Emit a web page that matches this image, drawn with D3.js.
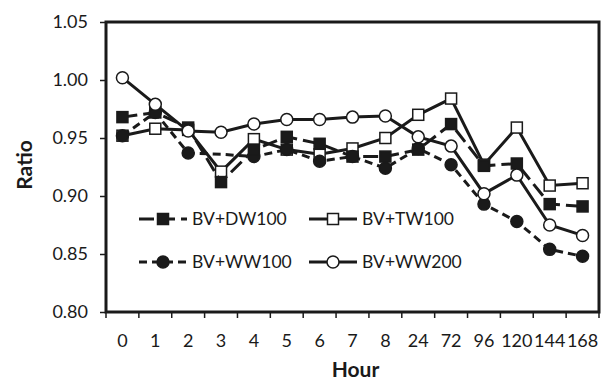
<!DOCTYPE html>
<html>
<head>
<meta charset="utf-8">
<script src="https://cdn.jsdelivr.net/npm/d3@7"></script>
<style>
  html, body { margin: 0; padding: 0; background: #fff; }
  svg { display: block; }
  text { font-family: Lato, "Open Sans", sans-serif; fill: #1a1a1a; }
</style>
</head>
<body>
<svg id="chart" width="602" height="383"></svg>
<script>
// Hours after treatment (categorical axis)
const hours = ["0", "1", "2", "3", "4", "5", "6", "7", "8", "24", "72", "96", "120", "144", "168"];
const yTicks = [0.80, 0.85, 0.90, 0.95, 1.00, 1.05];

// Ratio for each treatment
const tw100 = [0.952, 0.958, 0.957, 0.921, 0.949, 0.940, 0.936, 0.941, 0.950, 0.970, 0.984, 0.927, 0.959, 0.909, 0.911];
const ww100 = [0.952, 0.972, 0.937, 0.936, 0.934, 0.940, 0.930, 0.934, 0.924, 0.941, 0.927, 0.893, 0.878, 0.854, 0.848];
const dw100 = [0.968, 0.972, 0.959, 0.912, 0.940, 0.951, 0.945, 0.934, 0.934, 0.940, 0.962, 0.926, 0.928, 0.893, 0.891];
const ww200 = [1.002, 0.979, 0.956, 0.955, 0.962, 0.966, 0.966, 0.968, 0.969, 0.951, 0.943, 0.902, 0.918, 0.875, 0.866];

// Points plotted without a marker
const ww100NoMarker = ["3"];

// Drawing order: first entry is at the bottom
const series = [
  { name: "BV+TW100", values: tw100, marker: "square", filled: false, dash: null, skip: [] },
  { name: "BV+WW100", values: ww100, marker: "circle", filled: true, dash: "8,5", skip: ww100NoMarker },
  { name: "BV+DW100", values: dw100, marker: "square", filled: true, dash: "15,6", skip: [] },
  { name: "BV+WW200", values: ww200, marker: "circle", filled: false, dash: null, skip: [] }
];

// Legend layout: two columns, two rows
const legendOrder = [
  { name: "BV+DW100", col: 0, row: 0 },
  { name: "BV+TW100", col: 1, row: 0 },
  { name: "BV+WW100", col: 0, row: 1 },
  { name: "BV+WW200", col: 1, row: 1 }
];

const svg = d3.select("#chart");
const margin = { left: 106, right: 3, top: 22, bottom: 71 };
const W = 602, H = 383;

const x = d3.scaleBand().domain(hours).range([margin.left, W - margin.right]).padding(0);
const y = d3.scaleLinear().domain([0.80, 1.05]).range([H - margin.bottom, margin.top]);

const lineW = 3;

// Y axis with ticks and labels
const yAxis = svg.append("g")
  .attr("transform", `translate(${margin.left},0)`)
  .call(d3.axisLeft(y).tickValues(yTicks).tickSize(6).tickPadding(12).tickFormat(d3.format(".2f")));
yAxis.select(".domain").remove();
yAxis.selectAll(".tick line").attr("stroke", "#1a1a1a").attr("stroke-width", 1.5);
yAxis.selectAll(".tick text").style("font-size", "18px").attr("fill", "#1a1a1a");

// X axis: ticks on category boundaries, labels at centres
const xAxis = svg.append("g")
  .attr("transform", `translate(0,${y(0.80)})`)
  .call(d3.axisBottom(x).tickSize(0).tickPadding(22));
xAxis.select(".domain").remove();
xAxis.selectAll(".tick text").style("font-size", "18px").attr("fill", "#1a1a1a");

const bounds = hours.map(h => x(h)).concat([x.range()[1]]);
svg.append("g").selectAll("line").data(bounds).join("line")
  .attr("x1", d => d).attr("x2", d => d)
  .attr("y1", y(0.80)).attr("y2", y(0.80) + 6)
  .attr("stroke", "#1a1a1a").attr("stroke-width", 1.5);

// Plot frame
svg.append("rect")
  .attr("x", margin.left).attr("y", y(1.05))
  .attr("width", x.range()[1] - margin.left)
  .attr("height", y(0.80) - y(1.05))
  .attr("fill", "none").attr("stroke", "#1a1a1a").attr("stroke-width", 3);

// Axis titles
svg.append("text")
  .attr("transform", `translate(32,${(y(0.80) + y(1.05)) / 2 - 2}) rotate(-90)`)
  .attr("text-anchor", "middle")
  .style("font-size", "21px").style("font-weight", "bold")
  .text("Ratio");
svg.append("text")
  .attr("x", (margin.left + x.range()[1]) / 2 + 3).attr("y", 377)
  .attr("text-anchor", "middle")
  .style("font-size", "21px").style("font-weight", "bold")
  .text("Hour");

const cx = h => x(h) + x.bandwidth() / 2;
const line = d3.line().x((d, i) => cx(hours[i])).y(d => y(d));

function drawMarker(g, s, px, py) {
  if (s.marker === "square") {
    g.append("rect")
      .attr("x", px - 5.5).attr("y", py - 5.5).attr("width", 11).attr("height", 11)
      .attr("fill", s.filled ? "#1a1a1a" : "#fff")
      .attr("stroke", "#1a1a1a").attr("stroke-width", 1.5);
  } else {
    g.append("circle")
      .attr("cx", px).attr("cy", py).attr("r", 6)
      .attr("fill", s.filled ? "#1a1a1a" : "#fff")
      .attr("stroke", "#1a1a1a").attr("stroke-width", 1.5);
  }
}

// Series lines and markers
series.forEach(s => {
  const g = svg.append("g");
  g.append("path")
    .attr("d", line(s.values))
    .attr("fill", "none")
    .attr("stroke", "#1a1a1a")
    .attr("stroke-width", lineW)
    .attr("stroke-dasharray", s.dash);
  s.values.forEach((v, i) => {
    if (s.skip.includes(hours[i])) return;
    drawMarker(g, s, cx(hours[i]), y(v));
  });
});

// Legend
const legendCols = [139, 309];
const legendRows = [219, 262];
const sampleLen = 48;
legendOrder.forEach(item => {
  const s = series.find(d => d.name === item.name);
  const lx = legendCols[item.col], ly = legendRows[item.row];
  const g = svg.append("g");
  g.append("line")
    .attr("x1", lx).attr("x2", lx + sampleLen)
    .attr("y1", ly).attr("y2", ly)
    .attr("stroke", "#1a1a1a").attr("stroke-width", lineW)
    .attr("stroke-dasharray", s.dash);
  drawMarker(g, s, lx + sampleLen / 2, ly);
  g.append("text")
    .attr("x", lx + sampleLen + 5).attr("y", ly)
    .attr("dy", "0.36em")
    .style("font-size", "17.5px")
    .text(s.name);
});
</script>
</body>
</html>
